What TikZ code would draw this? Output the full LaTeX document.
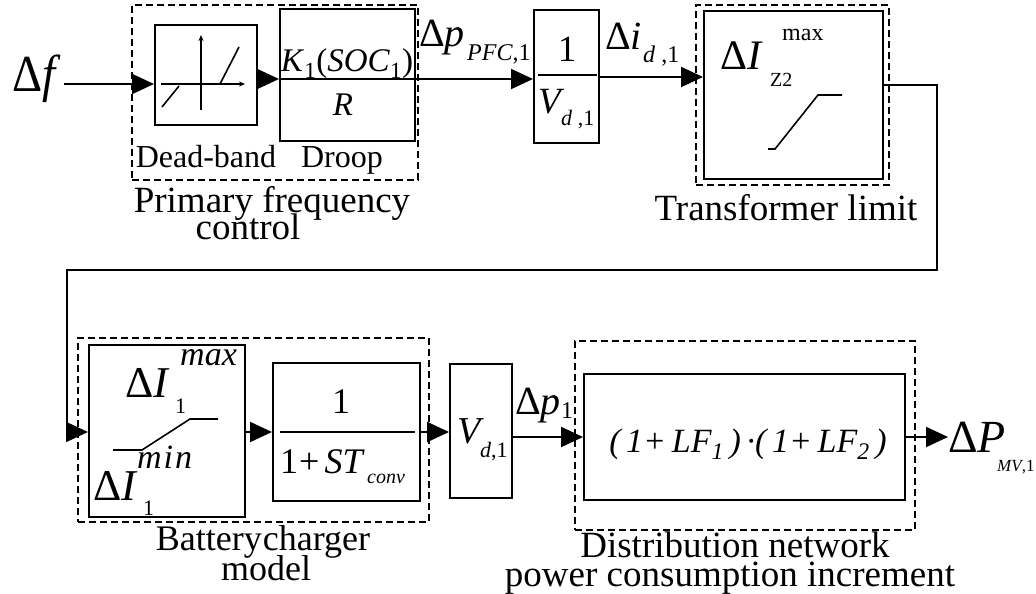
\documentclass[tikz,border=0pt]{standalone}
\usepackage{fontspec}
\setmainfont{Liberation Serif}
\usetikzlibrary{arrows.meta,fit,calc}
\newcommand\fs[1]{\fontsize{#1}{#1}\selectfont}
\begin{document}
\begin{tikzpicture}[x=1pt,y=-1pt,
  blk/.style={draw, line width=2pt, inner sep=0pt, rectangle},
  grp/.style={draw, line width=1.8pt, dash pattern=on 7pt off 4pt, inner sep=0pt, rectangle},
  sig/.style={line width=2pt, -{Triangle[length=22pt,width=20pt]}},
  ret/.style={line width=1.6pt, -{Triangle[length=22pt,width=20pt]}},
  txt/.style={inner sep=0pt, anchor=base west},
  ctxt/.style={inner sep=0pt, anchor=base},
  axis/.style={line width=1.4pt, -{Stealth[length=6pt,width=5pt]}},
  curve/.style={line width=1.6pt},
  frac/.style={line width=1.6pt}]
\useasboundingbox (0,0) rectangle (1036,594);

% blocks
\node[blk, fit={(155,25) (257,125)}] (db) {};
\node[blk, fit={(280,9) (415,141)}] (droop) {};
\node[blk, fit={(534,10) (599,143)}] (vb) {};
\node[blk, fit={(704,11) (883,179)}] (tl) {};
\node[blk, fit={(89,345) (245,517)}] (lim) {};
\node[blk, fit={(273,363) (420,501)}] (tf) {};
\node[blk, fit={(450,364) (512,498)}] (vd) {};
\node[blk, fit={(584,374) (905,500)}] (dn) {};

% dashed groups
\node[grp, fit={(132,5) (418,180)}] (pfcg) {};
\node[grp, fit={(696,5) (889,185)}] (tlg) {};
\node[grp, fit={(78,338) (429,522)}] (batg) {};
\node[grp, fit={(575,341) (915,530)}] (dng) {};

% fraction lines
\draw[frac] (droop.west |- 0,79) -- (droop.east |- 0,79);
\draw[frac] (538,75) -- (597,75);
\draw[frac] (280,432) -- (415,432);

% dead-band icon
\draw[axis] (201,110) -- (201,35);
\draw[axis] (161,84) -- (245,84);
\draw[curve] (162,107) -- (179,86);
\draw[curve] (220,84) -- (239,47);

% saturation icons
\draw[curve] (768,149) -- (775,149) -- (818,95) -- (842,95);
\draw[curve] (113,450) -- (142,450) -- (190,419) -- (218,419);

% texts
\node[txt, font=\fs{52}] (df) at (12,92) {\scalebox{0.9}[1]{Δ\textit{f}}};
\node[txt, font=\fs{40}] (dppfc) at (419,47) {Δ\textit{p}};
\node[txt, font=\fs{24}] (dppfcs) at (467,61) {\textit{PFC},1};
\node[ctxt, font=\fs{37}] (one1) at (567,62) {1};
\node[txt, font=\fs{37}] (vd1) at (538,113) {\textit{V}};
\node[txt, font=\fs{22}] (vd1s) at (561,125) {\textit{d} ,1};
\node[txt, font=\fs{40}] (di) at (605,50) {Δ\textit{i}};
\node[txt, font=\fs{24}] (dis) at (643,63) {\textit{d} ,1};
\node[txt, font=\fs{42}] (dIz) at (720,70) {Δ\textit{I}};
\node[txt, font=\fs{24}] (dIzmax) at (782,41) {max};
\node[txt, font=\fs{20}] (dIzs) at (770,86) {Z2};
\node[ctxt, font=\fs{33}] (k1) at (347,72) {\textit{K}\textsubscript{1}(\textit{SOC}\textsubscript{1})};
\node[ctxt, font=\fs{33}] (rr) at (343,115) {\textit{R}};
\node[ctxt, font=\fs{32}] (lbdb) at (206,167) {Dead-band};
\node[ctxt, font=\fs{32}] (lbdr) at (342,167) {Droop};
\node[ctxt, font=\fs{37}] (lbpfc1) at (272,212) {Primary frequency};
\node[ctxt, font=\fs{37}] (lbpfc2) at (248,239) {control};
\node[ctxt, font=\fs{37}] (lbtl) at (786,220) {Transformer limit};

\node[txt, font=\fs{44}] (imax) at (125,397) {Δ\textit{I}};
\node[txt, font=\fs{34}] (imaxs) at (180,365) {\textit{max}};
\node[txt, font=\fs{22}] (imax1) at (175,413) {1};
\node[txt, font=\fs{44}] (imin) at (93,500) {Δ\textit{I}};
\node[txt, font=\fs{34}] (imins) at (137,468) {\textit{m\kern2pt i\kern2pt n}};
\node[txt, font=\fs{22}] (imin1) at (143,515) {1};

\node[ctxt, font=\fs{36}] (tf1) at (341,413) {1};
\node[txt, font=\fs{36}] (tfd) at (280,473) {1\kern1pt+\kern5pt\textit{ST}};
\node[txt, font=\fs{20}] (tfs) at (367,483) {\textit{conv}};

\node[txt, font=\fs{38}] (vdv) at (457,443) {\textit{V}};
\node[txt, font=\fs{22}] (vdvs) at (480,457) {\textit{d},1};

\node[txt, font=\fs{40}] (dp1) at (515,414) {Δ\textit{p}};
\node[txt, font=\fs{24}] (dp1s) at (561,418) {1};

\node[ctxt, font=\fs{34}\itshape] (form) at (748,452) {(\,1+\,LF\textsubscript{1}\,)\,·(\,1+\,LF\textsubscript{2}\,)};

\node[txt, font=\fs{46}] (dP) at (948,452) {Δ\textit{P}};
\node[txt, font=\fs{17}] (dPs) at (997,471) {\textit{MV},1};

\node[ctxt, font=\fs{36}] (lbb1) at (263,550) {Battery\kern1pt charger};
\node[ctxt, font=\fs{36}] (lbb2) at (266,580) {model};
\node[ctxt, font=\fs{37}] (lbd1) at (735,557) {Distribution network};
\node[ctxt, font=\fs{37}] (lbd2) at (730,586) {power consumption increment};

% connectors
\coordinate (r1) at (0,84);
\coordinate (r2) at (0,79);
\coordinate (r3) at (0,77);
\coordinate (r4) at (0,85);
\coordinate (r5) at (0,432);
\coordinate (r6) at (0,437);
\coordinate (ta) at (937,270);
\coordinate (tb) at (67,270);

\draw[sig] ([xshift=3pt]df.east |- r1) -- (db.west |- r1);
\draw[sig] (db.east |- r2) -- (droop.west |- r2);
\draw[sig] (droop.east |- r2) -- (vb.west |- r2);
\draw[sig] (vb.east |- r3) -- (tl.west |- r3);
\draw[ret] (tl.east |- r4) -| (ta) -| (tb) |- (lim.west |- r5);
\draw[sig] (lim.east |- r5) -- (tf.west |- r5);
\draw[sig] (tf.east |- r5) -- (vd.west |- r5);
\draw[sig] (vd.east |- r6) -- (dn.west |- r6);
\draw[sig] (dn.east |- r6) -- (dP.west |- r6);
\end{tikzpicture}
\end{document}
